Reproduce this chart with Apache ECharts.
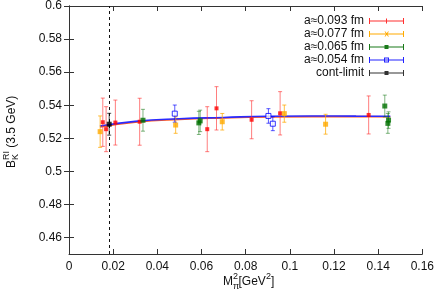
<!DOCTYPE html>
<html>
<head>
<meta charset="utf-8">
<script src="https://cdn.jsdelivr.net/npm/echarts@6/dist/echarts.min.js"></script>
<style>html,body{margin:0;padding:0;background:#fff;}#c{width:437px;height:295px;}</style>
</head>
<body>
<div id="c"></div>
<script>
// ---- data ----
const redX = [0.0153, 0.0168, 0.0210, 0.0320, 0.0626, 0.0668, 0.0827, 0.0956, 0.1357];
const redY = [0.5297, 0.5255, 0.5295, 0.5300, 0.5255, 0.5381, 0.5312, 0.5351, 0.5341];
const redE = [0.0146, 0.0136, 0.0136, 0.0142, 0.0136, 0.0131, 0.0115, 0.0131, 0.0115];

const orangeX = [0.0141, 0.0483, 0.0694, 0.0975, 0.1162];
const orangeY = [0.5240, 0.5280, 0.5300, 0.5349, 0.5285];
const orangeE = [0.0095, 0.0050, 0.0050, 0.0052, 0.0060];

const greenX = [0.0335, 0.0588, 0.0594, 0.1430, 0.1444, 0.1447];
const greenY = [0.5309, 0.5293, 0.5305, 0.5395, 0.5290, 0.5310];
const greenE = [0.0066, 0.0070, 0.0065, 0.0066, 0.0060, 0.0050];

const blueX = [0.0479, 0.0903, 0.0923];
const blueY = [0.5349, 0.5335, 0.5288];
const blueE = [0.0052, 0.0044, 0.0042];

const contX = [0.0182];
const contY = [0.5285];
const contE = [0.0066];

const fitX    = [0.0140, 0.0300, 0.0500, 0.0700, 0.0900, 0.1100, 0.1300, 0.1455];
const fitBlue = [0.5274, 0.5302, 0.5318, 0.5326, 0.5333, 0.5335, 0.5334, 0.5333];
const fitRed  = [0.5268, 0.5297, 0.5314, 0.5323, 0.5329, 0.5331, 0.5331, 0.5330];

const physX = [0.0182];

const xTicks = [0, 0.02, 0.04, 0.06, 0.08, 0.1, 0.12, 0.14, 0.16];
const yTicks = [0.46, 0.48, 0.5, 0.52, 0.54, 0.56, 0.58, 0.6];

const names = ['a≈0.093 fm', 'a≈0.077 fm', 'a≈0.065 fm', 'a≈0.054 fm', 'cont-limit'];

// ---- build ----
const FONT = 'Liberation Sans, Arial, sans-serif';
const groups = [
  {name: names[0], x: redX, y: redY, e: redE, bar: 'rgba(255,40,40,0.6)', pt: '#ff0000', symbol: 'rect', size: 4, hollow: false},
  {name: names[1], x: orangeX, y: orangeY, e: orangeE, bar: 'rgba(255,170,0,0.75)', pt: '#ffaa00', symbol: 'rect', size: 5, hollow: false},
  {name: names[2], x: greenX, y: greenY, e: greenE, bar: 'rgba(0,110,0,0.5)', pt: '#007000', symbol: 'rect', size: 5, hollow: false},
  {name: names[3], x: blueX, y: blueY, e: blueE, bar: 'rgba(0,0,255,0.65)', pt: '#0000ff', symbol: 'rect', size: 5, hollow: true},
  {name: names[4], x: contX, y: contY, e: contE, bar: 'rgba(0,0,0,0.7)', pt: '#000000', symbol: 'rect', size: 5, hollow: false}
];

function errRender(color) {
  return function (params, api) {
    const x = api.value(0), y = api.value(1), e = api.value(2);
    const top = api.coord([x, y + e]);
    const bot = api.coord([x, y - e]);
    const cw = 2;
    const style = {stroke: color, lineWidth: 1, fill: null};
    return {
      type: 'group',
      children: [
        {type: 'line', shape: {x1: top[0], y1: top[1], x2: bot[0], y2: bot[1]}, style: style},
        {type: 'line', shape: {x1: top[0] - cw, y1: top[1], x2: top[0] + cw, y2: top[1]}, style: style},
        {type: 'line', shape: {x1: bot[0] - cw, y1: bot[1], x2: bot[0] + cw, y2: bot[1]}, style: style}
      ]
    };
  };
}

const series = [];
// fit lines
series.push({
  type: 'line', data: fitX.map((x, i) => [x, fitRed[i]]), smooth: true, showSymbol: false, symbol: 'none',
  lineStyle: {color: '#ff5a1e', width: 1.6}, silent: true, z: 3,
  markLine: {
    silent: true, symbol: 'none', label: {show: false}, precision: 5,
    lineStyle: {color: '#111', type: [3, 3], width: 1},
    data: physX.map(v => ({xAxis: v}))
  }
});
series.push({
  type: 'line', data: fitX.map((x, i) => [x, fitBlue[i]]), smooth: true, showSymbol: false, symbol: 'none',
  lineStyle: {color: '#2a2aff', width: 1.6}, silent: true, z: 4
});
groups.forEach(g => {
  const d = g.x.map((x, i) => [x, g.y[i], g.e[i]]);
  series.push({
    type: 'custom', name: g.name, data: d, renderItem: errRender(g.bar),
    encode: {x: 0, y: 1}, z: 5, silent: true
  });
  series.push({
    type: 'scatter', name: g.name, data: d.map(p => [p[0], p[1]]), symbol: g.symbol, symbolSize: g.size,
    itemStyle: g.hollow ? {color: '#fff', borderColor: g.pt, borderWidth: 1} : {color: g.pt},
    z: 6, silent: true
  });
});

// legend icons (35 x 8)
const baseIcon = 'M0,3.5H35V4.5H0Z M0,1H1V7H0Z M34,1H35V7H34Z';
const icons = [
  'path://' + baseIcon + ' M17,1.5H18V6.5H17Z',
  'path://' + baseIcon + ' M15.5,1.5L16.5,1.5L20,6.5L19,6.5Z M19,1.5L20,1.5L16.5,6.5L15.5,6.5Z',
  'path://' + baseIcon + ' M15.5,2H19.5V6H15.5Z',
  'path://' + baseIcon + ' M15,1.5H20V2.5H15Z M15,5.5H20V6.5H15Z M15,1.5H16V6.5H15Z M19,1.5H20V6.5H19Z',
  'path://' + baseIcon + ' M15.5,2H19.5V6H15.5Z'
];
const legendColors = ['#ff3030', '#ffaa00', '#1a7a1a', '#2222ff', '#333333'];

const axisLineStyle = {color: '#333', width: 1};
const option = {
  animation: false,
  backgroundColor: '#fff',
  grid: {left: 69, right: 14, top: 6, bottom: 41, containLabel: false},
  legend: {
    orient: 'vertical', right: 28, top: 10, align: 'right',
    itemWidth: 35, itemHeight: 8, itemGap: 1, selectedMode: false,
    textStyle: {fontSize: 12, fontFamily: FONT, color: '#111', lineHeight: 12},
    data: names.map((n, i) => ({name: n, icon: icons[i], itemStyle: {color: legendColors[i]}}))
  },
  xAxis: [
    {type: 'value', min: 0, max: 0.16, interval: 0.02, position: 'bottom',
     axisLine: {show: true, lineStyle: axisLineStyle}, splitLine: {show: false},
     axisTick: {show: true, inside: true, length: 5, lineStyle: axisLineStyle},
     axisLabel: {margin: 7, fontSize: 12, fontFamily: FONT, color: '#111', showMinLabel: true, showMaxLabel: true}},
    {type: 'value', min: 0, max: 0.16, interval: 0.02, position: 'top',
     axisLine: {show: true, lineStyle: axisLineStyle}, splitLine: {show: false},
     axisTick: {show: true, inside: true, length: 5, lineStyle: axisLineStyle},
     axisLabel: {show: false}}
  ],
  yAxis: [
    {type: 'value', min: 0.45, max: 0.6, position: 'left',
     axisLine: {show: true, lineStyle: axisLineStyle}, splitLine: {show: false},
     axisTick: {show: true, inside: true, length: 5, lineStyle: axisLineStyle, customValues: yTicks},
     axisLabel: {margin: 7, fontSize: 12, fontFamily: FONT, color: '#111', customValues: yTicks}},
    {type: 'value', min: 0.45, max: 0.6, position: 'right',
     axisLine: {show: true, lineStyle: axisLineStyle}, splitLine: {show: false},
     axisTick: {show: true, inside: true, length: 5, lineStyle: axisLineStyle, customValues: yTicks},
     axisLabel: {show: false}}
  ],
  graphic: [
    {
      type: 'group', x: 12, y: 131, rotation: Math.PI / 2, silent: true,
      children: [
        {type: 'text', x: -37, y: 0, style: {text: 'B', fontSize: 12, fontFamily: FONT, fill: '#111', verticalAlign: 'middle', align: 'left'}},
        {type: 'text', x: -29, y: 4, style: {text: 'K', fontSize: 9, fontFamily: FONT, fill: '#111', verticalAlign: 'middle', align: 'left'}},
        {type: 'text', x: -29, y: -5, style: {text: 'RI', fontSize: 9, fontFamily: FONT, fill: '#111', verticalAlign: 'middle', align: 'left'}},
        {type: 'text', x: -20, y: 0, style: {text: ' (3.5 GeV)', fontSize: 12, fontFamily: FONT, fill: '#111', verticalAlign: 'middle', align: 'left'}}
      ]
    },
    {
      type: 'group', x: 223, y: 282, silent: true,
      children: [
        {type: 'text', x: 0, y: 0, style: {text: 'M', fontSize: 12, fontFamily: FONT, fill: '#111', verticalAlign: 'middle', align: 'left'}},
        {type: 'text', x: 10, y: 5, style: {text: 'π', fontSize: 9, fontFamily: FONT, fill: '#111', verticalAlign: 'middle', align: 'left'}},
        {type: 'text', x: 10, y: -5, style: {text: '2', fontSize: 9, fontFamily: FONT, fill: '#111', verticalAlign: 'middle', align: 'left'}},
        {type: 'text', x: 15.5, y: 0, style: {text: '[GeV', fontSize: 12, fontFamily: FONT, fill: '#111', verticalAlign: 'middle', align: 'left'}},
        {type: 'text', x: 43, y: -5, style: {text: '2', fontSize: 9, fontFamily: FONT, fill: '#111', verticalAlign: 'middle', align: 'left'}},
        {type: 'text', x: 48, y: 0, style: {text: ']', fontSize: 12, fontFamily: FONT, fill: '#111', verticalAlign: 'middle', align: 'left'}}
      ]
    }
  ],
  series: series
};

const chart = echarts.init(document.getElementById('c'), null, {renderer: 'canvas'});
chart.setOption(option);
</script>
</body>
</html>
